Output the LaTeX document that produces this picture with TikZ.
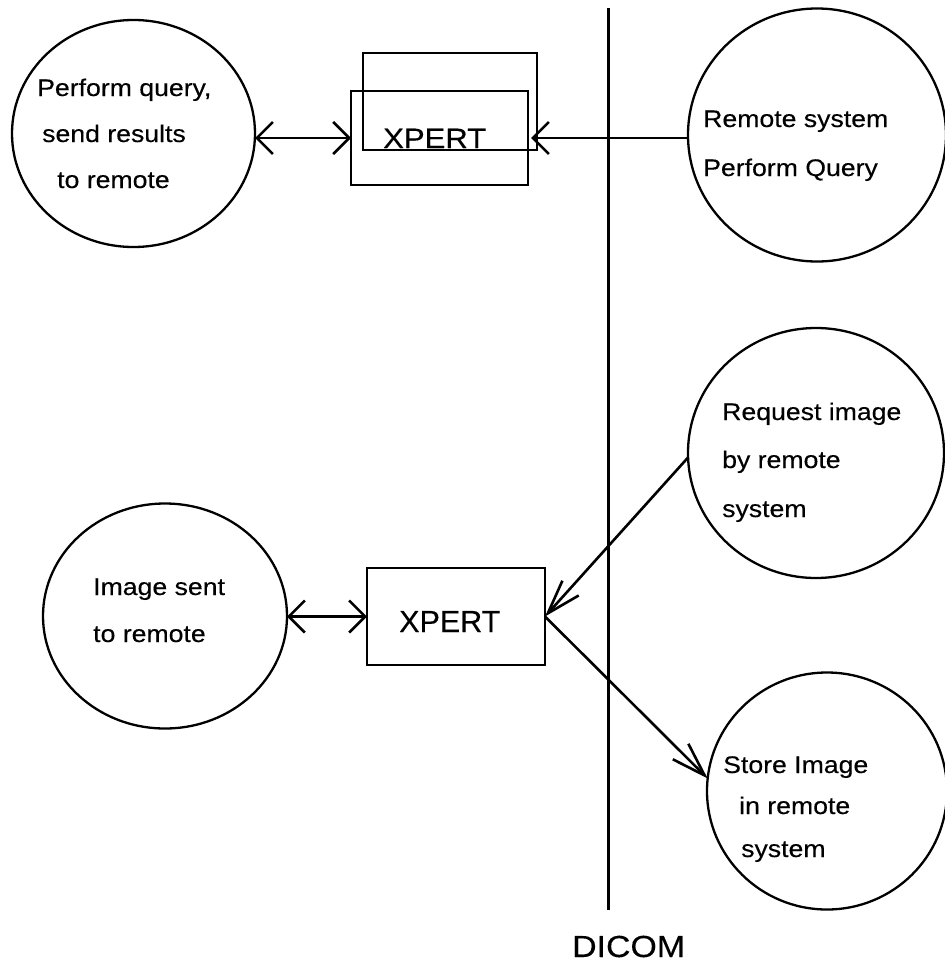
\documentclass[tikz,border=0pt]{standalone}
\usepackage{fontspec}
\setmainfont[FakeBold=0.3]{Liberation Sans}
\newfontfamily\widefont[FakeStretch=1.11,FakeBold=0.3]{Liberation Sans}
\usetikzlibrary{arrows.meta,shapes.geometric}

\tikzset{
  bubble/.style 2 args={ellipse, draw, line width=2.3pt, inner sep=0pt, outer sep=0pt,
    minimum width=#1, minimum height=#2},
  frame/.style 2 args={rectangle, draw, line width=2.3pt, inner sep=0pt, outer sep=0pt,
    minimum width=#1, minimum height=#2},
  caption/.style={anchor=base west, inner sep=0pt, font=\widefont\fontsize{24}{28}\selectfont},
  link/.style={line width=2.6pt},
  barbW/.tip={Straight Barb[length=16pt,width=32pt]},
  barbN/.tip={Straight Barb[length=34pt,width=22pt]},
}

\begin{document}
\begin{tikzpicture}[x=1pt,y=-1pt]
\useasboundingbox (0,0) rectangle (945,964);

% process bubbles
\node[bubble={243}{227}] (tl) at (133.5,133.5) {};
\node[bubble={258}{253}] (tr) at (817,135) {};
\node[bubble={256}{250}] (mr) at (816,453) {};
\node[bubble={240}{237}] (br) at (827,791) {};
\node[bubble={244}{225}] (bl) at (165,616) {};

% bubble captions
\node[caption] (tl1) at (37,96)  {Perform query,};
\node[caption] (tl2) at (42,142) {send results};
\node[caption] (tl3) at (57,188) {to remote};

\node[caption] (tr1) at (703,127) {Remote system};
\node[caption] (tr2) at (703,176) {Perform Query};

\node[caption] (mr1) at (722,420) {Request image};
\node[caption] (mr2) at (722,468) {by remote};
\node[caption] (mr3) at (722,517) {system};

\node[caption] (br1) at (723,773) {Store Image};
\node[caption] (br2) at (739,814) {in remote};
\node[caption] (br3) at (741,857) {system};

\node[caption] (bl1) at (93,595) {Image sent};
\node[caption] (bl2) at (93,642) {to remote};

% XPERT boxes (stacked pair at the top, single one below)
\node[frame={174}{97}] (xback) at (450,101.5) {};
\node[frame={177}{94}] (xf) at (439.5,138) {};
\node[anchor=base west, inner sep=0pt, font=\widefont\fontsize{28}{32}\selectfont] (xftext) at (383,148) {XPERT};

\node[frame={178}{97}] (xb) at (456,616.5) {};
\node[anchor=base west, inner sep=0pt, font=\fontsize{30.5}{34}\selectfont] (xbtext) at (399,632) {XPERT};

% DICOM boundary
\coordinate (dtop) at (608.5,8);
\coordinate (dbot) at (608.5,910);
\draw[link] (dtop) -- (dbot);
\node[anchor=base west, inner sep=0pt, font=\widefont\fontsize{30.5}{36}\selectfont] (dicom) at (572,957) {DICOM};

% connectors
\draw[link, barbW-barbW] (tl.east |- xf.west) -- (xf.west);
\draw[link, -barbW] (tr.west |- xf.west) -- ([xshift=3pt]xf.east);
\draw[link, barbW-barbW] (bl.east |- xb.west) -- (xb.west);
\draw[link, -barbN] (mr.182) -- (xb.east);
\draw[link, -barbN] (xb.east) -- (br.174);
\end{tikzpicture}
\end{document}
